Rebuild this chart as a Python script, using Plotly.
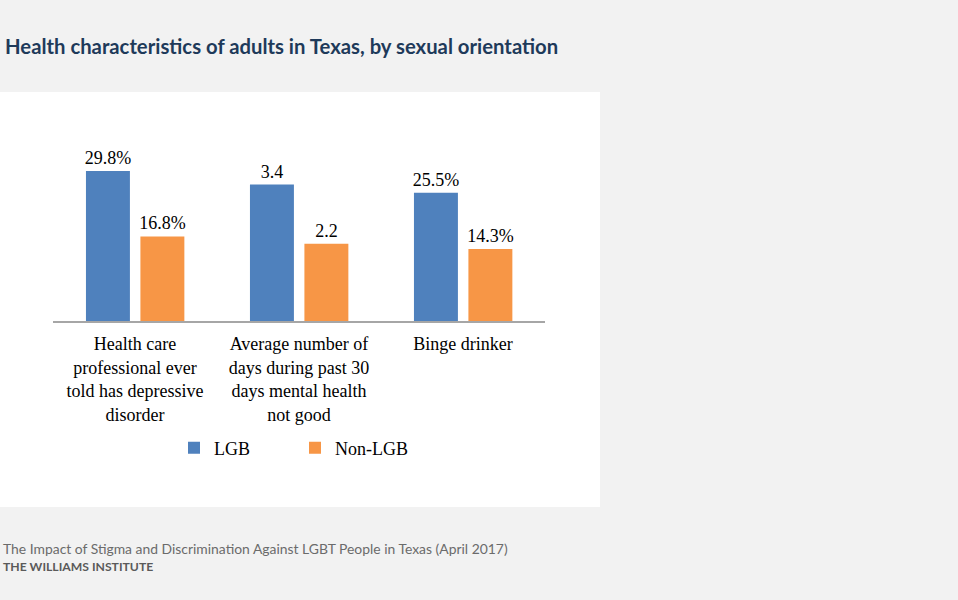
import plotly.graph_objects as go

# ---- data ----
categories = ["Depressive disorder", "Days mental health not good", "Binge drinker"]
tick_labels = [
    "Health care<br>professional ever<br>told has depressive<br>disorder",
    "Average number of<br>days during past 30<br>days mental health<br>not good",
    "Binge drinker",
]
lgb = [29.8, 3.4, 25.5]
non_lgb = [16.8, 2.2, 14.3]
units = ["%", "", "%"]
series_names = ["LGB", "Non-LGB"]
colors = ["#4f81bd", "#f79646"]

title_text = "Health characteristics of adults in Texas, by sexual orientation"
source_text = "The Impact of Stigma and Discrimination Against LGBT People in Texas (April 2017)"
org_text = "THE WILLIAMS INSTITUTE"

# ---- layout geometry ----
W, H = 958, 600
ml, mr, mt, mb = 53, 413, 121, 279
pw, ph = W - ml - mr, H - mt - mb

def px_x(X):
    return (X - ml) / pw

def px_y(Y):
    return (H - mb - Y) / ph

serif = "Liberation Serif, Times New Roman, serif"
sans = "Lato, Open Sans, sans-serif"
fs = 18

fig = go.Figure()

bar_w = 0.268
offsets = [-0.299, 0.033]
pct_idx = [i for i, u in enumerate(units) if u == "%"]
day_idx = [i for i, u in enumerate(units) if u != "%"]

for s, (name, vals) in enumerate(zip(series_names, [lgb, non_lgb])):
    fig.add_trace(go.Bar(
        x=[categories[i] for i in pct_idx],
        y=[vals[i] for i in pct_idx],
        text=[f"{vals[i]}{units[i]}" for i in pct_idx],
        textposition="outside", constraintext="none",
        textfont=dict(family=serif, size=fs, color="#000000"),
        marker=dict(color=colors[s], line=dict(width=0)),
        width=bar_w, offset=offsets[s],
        name=name, legendgroup=name, showlegend=True,
        yaxis="y", cliponaxis=False,
    ))
    fig.add_trace(go.Bar(
        x=[categories[i] for i in day_idx],
        y=[vals[i] for i in day_idx],
        text=[f"{vals[i]}{units[i]}" for i in day_idx],
        textposition="outside", constraintext="none",
        textfont=dict(family=serif, size=fs, color="#000000"),
        marker=dict(color=colors[s], line=dict(width=0)),
        width=bar_w, offset=offsets[s],
        name=name, legendgroup=name, showlegend=False,
        yaxis="y2", cliponaxis=True,
    ))

fig.update_layout(
    width=W, height=H,
    margin=dict(l=ml, r=mr, t=mt, b=mb, pad=0),
    paper_bgcolor="#f2f2f2",
    plot_bgcolor="rgba(0,0,0,0)",
    barmode="overlay",
    showlegend=True,
    legend=dict(
        orientation="h", x=px_x(174), xanchor="left", y=px_y(448), yanchor="middle",
        font=dict(family=serif, size=fs, color="#000000"),
        bgcolor="rgba(0,0,0,0)", entrywidth=76, entrywidthmode="pixels",
        traceorder="normal",
    ),
    xaxis=dict(
        type="category", categoryorder="array", categoryarray=categories,
        tickvals=categories, ticktext=tick_labels,
        tickfont=dict(family=serif, size=fs, color="#000000"),
        showline=True, linecolor="#a6a6a6", linewidth=1.5,
        showgrid=False, zeroline=False, ticks="", range=[-0.5, 2.5],
        ticklabelstandoff=6,
    ),
    yaxis=dict(range=[0, 39.76], visible=False, showgrid=False, zeroline=False),
    yaxis2=dict(range=[0.628, 4.693], overlaying="y", visible=False,
                showgrid=False, zeroline=False),
    shapes=[dict(type="rect", xref="paper", yref="paper",
                 x0=px_x(0), x1=px_x(600), y0=px_y(507), y1=px_y(92),
                 fillcolor="#ffffff", line=dict(width=0), layer="below")],
    annotations=[
        dict(text=f"<b>{title_text}</b>", xref="paper", yref="paper",
             x=px_x(3), y=px_y(46), xanchor="left", yanchor="middle", showarrow=False,
             font=dict(family=sans, size=20.3, color="#1e3a5a")),
        dict(text=source_text, xref="paper", yref="paper",
             x=px_x(1), y=px_y(548), xanchor="left", yanchor="middle", showarrow=False,
             font=dict(family=sans, size=13.9, color="#6b6b6b")),
        dict(text=f"<b>{org_text}</b>", xref="paper", yref="paper",
             x=px_x(1), y=px_y(566), xanchor="left", yanchor="middle", showarrow=False,
             font=dict(family=sans, size=12.2, color="#5a5a5a")),
    ],
)

fig.write_html("out.html")
